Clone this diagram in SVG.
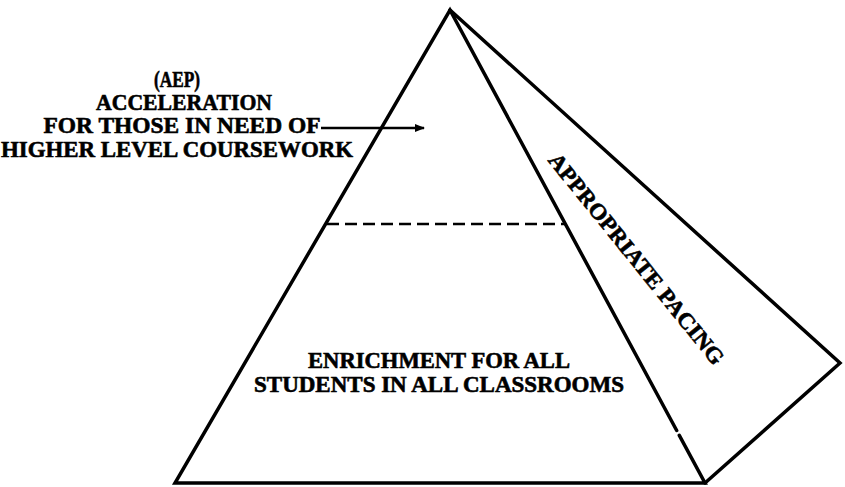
<svg xmlns="http://www.w3.org/2000/svg" width="845" height="487" viewBox="0 0 845 487">
<style>
.edge{fill:none;stroke:#000;stroke-width:3.5;stroke-linejoin:miter;stroke-linecap:round}
.dash{fill:none;stroke:#000;stroke-width:2.5;stroke-dasharray:12 6}
.lbl{font-family:"Liberation Serif","Times New Roman",serif;font-weight:bold;font-size:22.5px;fill:#000;stroke:#000;stroke-width:0.6;text-anchor:middle}
.conn{fill:none;stroke:#000;stroke-width:2.5}
</style>
<defs>
<marker id="ah" markerWidth="10" markerHeight="8" refX="9" refY="4" orient="auto" markerUnits="userSpaceOnUse">
<path d="M0,0 L10,4 L0,8 Z" fill="#000"/>
</marker>
</defs>
<rect width="845" height="487" fill="#fff"/>
<g id="pyramid">
<path class="edge" d="M676.7,430.5 L450,10 L175,483 L705,483 L679.3,435.3"/>
<path class="edge" d="M450,10 L840,363 L705,483"/>
<line class="dash" x1="327" y1="224" x2="565" y2="224"/>
</g>
<g id="acceleration">
<text class="lbl" x="177" y="87" textLength="46" lengthAdjust="spacingAndGlyphs">(AEP)</text>
<text class="lbl" x="184" y="110" textLength="176" lengthAdjust="spacingAndGlyphs">ACCELERATION</text>
<text class="lbl" x="182" y="133" textLength="277" lengthAdjust="spacingAndGlyphs">FOR THOSE IN NEED OF</text>
<text class="lbl" x="177" y="157" textLength="352" lengthAdjust="spacingAndGlyphs">HIGHER LEVEL COURSEWORK</text>
</g>
<g id="enrichment">
<text class="lbl" x="439" y="368" textLength="262" lengthAdjust="spacingAndGlyphs">ENRICHMENT FOR ALL</text>
<text class="lbl" x="439" y="392" textLength="370" lengthAdjust="spacingAndGlyphs">STUDENTS IN ALL CLASSROOMS</text>
</g>
<g id="pacing">
<text class="lbl" transform="translate(636,259) rotate(51)" x="0" y="7" textLength="265" lengthAdjust="spacingAndGlyphs">APPROPRIATE PACING</text>
</g>
<g id="connectors">
<line class="conn" x1="321" y1="128" x2="424" y2="128" marker-end="url(#ah)"/>
</g>
</svg>
